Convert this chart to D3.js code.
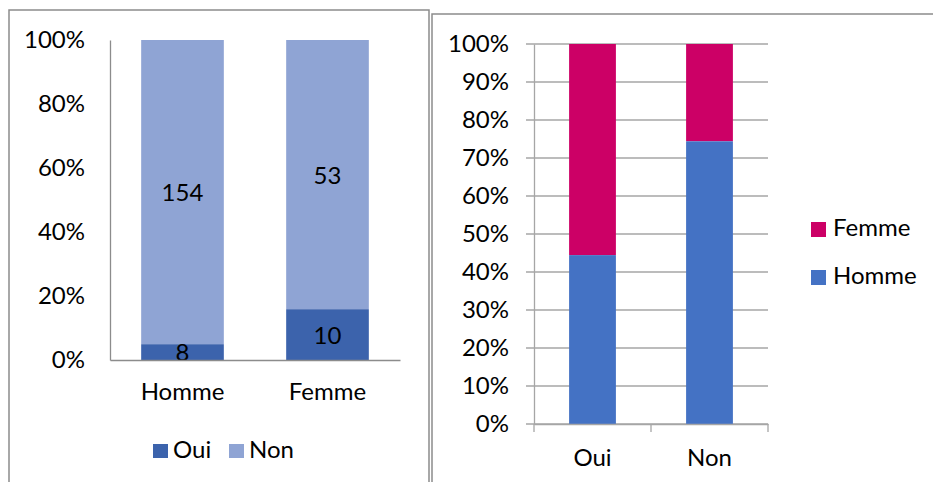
<!DOCTYPE html>
<html>
<head>
<meta charset="utf-8">
<script src="https://cdn.jsdelivr.net/npm/d3@7"></script>
<style>
  body { margin: 0; background: #fff; }
  text { font-family: Lato, "Open Sans", sans-serif; fill: #000; }
</style>
</head>
<body>
<script>
// counts
var genres = ["Homme", "Femme"]
var reponses = ["Oui", "Non"]
var oui = [8, 10]
var non = [154, 53]

var pctTicksLeft = [0, 0.2, 0.4, 0.6, 0.8, 1]
var pctTicksRight = [0, 0.1, 0.2, 0.3, 0.4, 0.5, 0.6, 0.7, 0.8, 0.9, 1]

var colOui = "#3C63AC", colNon = "#8FA4D4"
var colFemme = "#CC0066", colHomme = "#4472C4"
var fs = 24

var svg = d3.select("body").append("svg")
    .attr("width", 933)
    .attr("height", 482);

// chart frames
svg.append("path")
    .attr("d", "M9,482 V10 H429 V482")
    .attr("fill", "none").attr("stroke", "#8c8c8c").attr("stroke-width", 1.5);
svg.append("path")
    .attr("d", "M432,482 V14 H933")
    .attr("fill", "none").attr("stroke", "#8c8c8c").attr("stroke-width", 1.5);

// ---------- left chart : Oui / Non by genre, 100% stacked ----------
var leftData = genres.map(function(g, i) {
    var tot = oui[i] + non[i]
    return { genre: g, oui: oui[i], non: non[i], pOui: oui[i] / tot }
})

var x1 = d3.scaleBand().domain(genres).range([110, 400]).paddingInner(0.43).paddingOuter(0.215)
var y1 = d3.scaleLinear().domain([0, 1]).range([360, 40])

var gL = svg.append("g")

gL.selectAll(".barNon")
    .data(leftData)
    .enter().append("rect")
    .attr("x", function(d) { return x1(d.genre) })
    .attr("width", x1.bandwidth())
    .attr("y", y1(1))
    .attr("height", function(d) { return y1(d.pOui) - y1(1) })
    .attr("fill", colNon);

gL.selectAll(".barOui")
    .data(leftData)
    .enter().append("rect")
    .attr("x", function(d) { return x1(d.genre) })
    .attr("width", x1.bandwidth())
    .attr("y", function(d) { return y1(d.pOui) })
    .attr("height", function(d) { return y1(0) - y1(d.pOui) })
    .attr("fill", colOui);

// value labels
gL.selectAll(".lblNon")
    .data(leftData)
    .enter().append("text")
    .text(function(d) { return d.non })
    .attr("x", function(d) { return x1(d.genre) + x1.bandwidth() / 2 })
    .attr("y", function(d) { return (y1(1) + y1(d.pOui)) / 2 + 3 })
    .attr("text-anchor", "middle").attr("dominant-baseline", "middle")
    .style("font-size", fs + "px");

gL.selectAll(".lblOui")
    .data(leftData)
    .enter().append("text")
    .text(function(d) { return d.oui })
    .attr("x", function(d) { return x1(d.genre) + x1.bandwidth() / 2 })
    .attr("y", function(d) { return (y1(0) + y1(d.pOui)) / 2 + 3 })
    .attr("text-anchor", "middle").attr("dominant-baseline", "middle")
    .style("font-size", fs + "px");

// axes
var yAxL = gL.append("g").attr("transform", "translate(110,0)")
    .call(d3.axisLeft(y1).tickValues(pctTicksLeft).tickFormat(d3.format(".0%")).tickSize(0).tickPadding(25))
yAxL.select(".domain").attr("stroke", "#8c8c8c").attr("stroke-width", 1.3)
yAxL.selectAll("text").style("font-size", fs + "px").attr("fill", "#000")

var xAxL = gL.append("g").attr("transform", "translate(0,360)")
    .call(d3.axisBottom(x1).tickSize(0).tickPadding(23))
xAxL.select(".domain").attr("stroke", "#8c8c8c").attr("stroke-width", 1.3)
xAxL.selectAll("text").style("font-size", fs + "px").attr("fill", "#000")

// legend
var legL = gL.selectAll(".legL")
    .data([{ k: "Oui", c: colOui, x: 153 }, { k: "Non", c: colNon, x: 229 }])
    .enter().append("g")
    .attr("transform", function(d) { return "translate(" + d.x + ",444)" })
legL.append("rect").attr("width", 15).attr("height", 14).attr("fill", function(d) { return d.c })
legL.append("text").text(function(d) { return d.k })
    .attr("x", 20).attr("y", 8).attr("dominant-baseline", "middle")
    .style("font-size", fs + "px");

// ---------- right chart : genre share within Oui / Non ----------
var rightData = reponses.map(function(r, j) {
    var h = r == "Oui" ? oui[0] : non[0]
    var f = r == "Oui" ? oui[1] : non[1]
    return { rep: r, pHomme: h / (h + f) }
})

var x2 = d3.scaleBand().domain(reponses).range([534, 768]).paddingInner(0.6).paddingOuter(0.3)
var y2 = d3.scaleLinear().domain([0, 1]).range([424, 44])

var gR = svg.append("g")

// gridlines
gR.selectAll(".grid")
    .data(pctTicksRight)
    .enter().append("line")
    .attr("x1", 526).attr("x2", 768)
    .attr("y1", function(d) { return y2(d) }).attr("y2", function(d) { return y2(d) })
    .attr("stroke", "#a6a6a6").attr("stroke-width", 1.3);

gR.selectAll(".barF")
    .data(rightData)
    .enter().append("rect")
    .attr("x", function(d) { return x2(d.rep) })
    .attr("width", x2.bandwidth())
    .attr("y", y2(1))
    .attr("height", function(d) { return y2(d.pHomme) - y2(1) })
    .attr("fill", colFemme);

gR.selectAll(".barH")
    .data(rightData)
    .enter().append("rect")
    .attr("x", function(d) { return x2(d.rep) })
    .attr("width", x2.bandwidth())
    .attr("y", function(d) { return y2(d.pHomme) })
    .attr("height", function(d) { return y2(0) - y2(d.pHomme) })
    .attr("fill", colHomme);

var yAxR = gR.append("g").attr("transform", "translate(534,0)")
    .call(d3.axisLeft(y2).tickValues(pctTicksRight).tickFormat(d3.format(".0%")).tickSize(0).tickPadding(25))
yAxR.select(".domain").attr("stroke", "#a6a6a6").attr("stroke-width", 1.3)
yAxR.selectAll("text").style("font-size", fs + "px").attr("fill", "#000")

var xAxR = gR.append("g").attr("transform", "translate(0,424)")
    .call(d3.axisBottom(x2).tickSize(0).tickPadding(25))
xAxR.select(".domain").attr("stroke", "#a6a6a6").attr("stroke-width", 1.3)
xAxR.selectAll("text").style("font-size", fs + "px").attr("fill", "#000")

// category separators on x axis
gR.selectAll(".xtick")
    .data([534, 651, 768])
    .enter().append("line")
    .attr("x1", function(d) { return d }).attr("x2", function(d) { return d })
    .attr("y1", 424).attr("y2", 432)
    .attr("stroke", "#a6a6a6").attr("stroke-width", 1.3);

var legR = gR.selectAll(".legR")
    .data([{ k: "Femme", c: colFemme, y: 222 }, { k: "Homme", c: colHomme, y: 270 }])
    .enter().append("g")
    .attr("transform", function(d) { return "translate(811," + d.y + ")" })
legR.append("rect").attr("width", 15).attr("height", 15).attr("fill", function(d) { return d.c })
legR.append("text").text(function(d) { return d.k })
    .attr("x", 22).attr("y", 8).attr("dominant-baseline", "middle")
    .style("font-size", fs + "px");
</script>
</body>
</html>
